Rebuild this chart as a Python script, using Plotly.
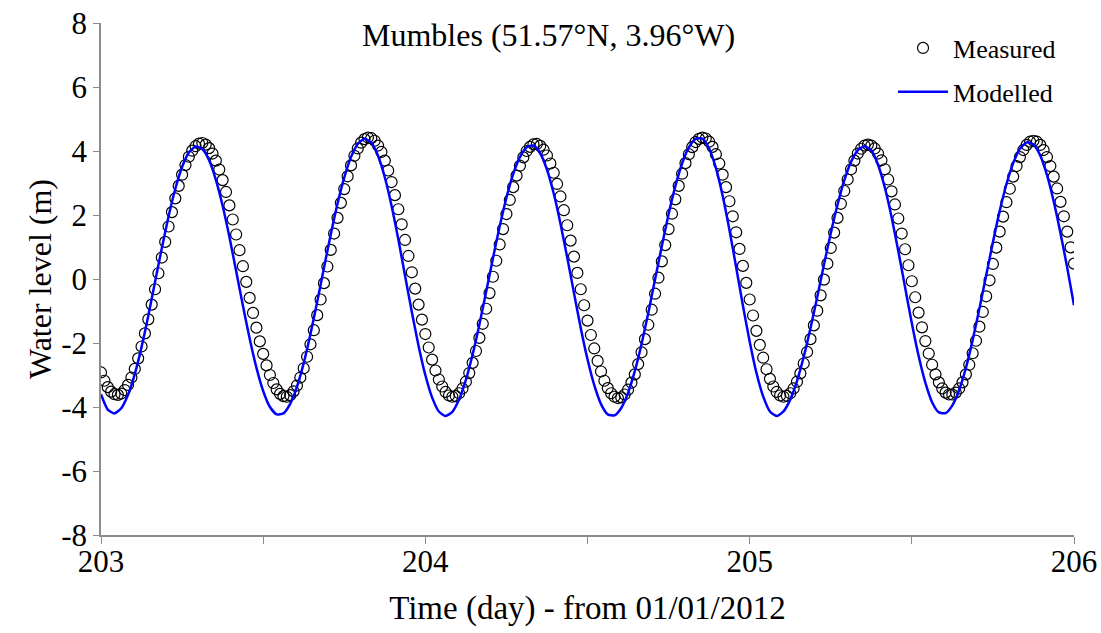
import plotly.graph_objects as go

# ---------------- data ----------------
t_start = 203.0
meas_step = 1.0 / 96.0   # 15-minute sampling of the measured record
model_step = 1.0 / 48.0  # 30-minute sampling of the modelled series

measured = [
    -2.92, -3.18, -3.38, -3.52, -3.60, -3.62, -3.58, -3.47, -3.31, -3.08, -2.81, -2.48,
    -2.11, -1.70, -1.26, -0.80, -0.32, 0.18, 0.67, 1.16, 1.64, 2.09, 2.52, 2.91,
    3.26, 3.56, 3.82, 4.01, 4.15, 4.23, 4.25, 4.20, 4.09, 3.92, 3.70, 3.42,
    3.09, 2.72, 2.30, 1.86, 1.39, 0.90, 0.40, -0.09, -0.59, -1.06, -1.52, -1.95,
    -2.34, -2.70, -3.00, -3.25, -3.45, -3.59, -3.66, -3.68, -3.63, -3.51, -3.33, -3.08,
    -2.79, -2.43, -2.04, -1.60, -1.13, -0.64, -0.13, 0.39, 0.91, 1.42, 1.91, 2.38,
    2.81, 3.21, 3.55, 3.85, 4.08, 4.26, 4.37, 4.42, 4.40, 4.32, 4.17, 3.97,
    3.70, 3.39, 3.03, 2.62, 2.18, 1.71, 1.22, 0.72, 0.21, -0.30, -0.80, -1.27,
    -1.72, -2.14, -2.52, -2.86, -3.14, -3.36, -3.53, -3.64, -3.68, -3.66, -3.57, -3.42,
    -3.21, -2.94, -2.62, -2.25, -1.84, -1.40, -0.93, -0.44, 0.07, 0.57, 1.08, 1.56,
    2.03, 2.47, 2.87, 3.23, 3.54, 3.80, 4.00, 4.13, 4.21, 4.22, 4.16, 4.04,
    3.86, 3.61, 3.32, 2.97, 2.58, 2.15, 1.68, 1.20, 0.70, 0.19, -0.32, -0.82,
    -1.30, -1.75, -2.17, -2.56, -2.89, -3.18, -3.41, -3.57, -3.68, -3.72, -3.70, -3.61,
    -3.46, -3.24, -2.98, -2.66, -2.29, -1.88, -1.43, -0.96, -0.46, 0.04, 0.55, 1.06,
    1.56, 2.04, 2.49, 2.91, 3.29, 3.62, 3.90, 4.12, 4.28, 4.38, 4.42, 4.39,
    4.29, 4.13, 3.90, 3.61, 3.26, 2.87, 2.43, 1.96, 1.46, 0.94, 0.41, -0.12,
    -0.64, -1.14, -1.62, -2.06, -2.46, -2.82, -3.12, -3.36, -3.53, -3.64, -3.68, -3.65,
    -3.57, -3.42, -3.21, -2.95, -2.64, -2.28, -1.88, -1.45, -0.99, -0.51, -0.02, 0.48,
    0.97, 1.45, 1.91, 2.35, 2.75, 3.11, 3.43, 3.70, 3.92, 4.07, 4.17, 4.20,
    4.17, 4.08, 3.92, 3.71, 3.43, 3.11, 2.74, 2.33, 1.89, 1.42, 0.93, 0.43,
    -0.07, -0.57, -1.05, -1.51, -1.94, -2.33, -2.68, -2.98, -3.23, -3.42, -3.55, -3.61,
    -3.61, -3.55, -3.42, -3.23, -2.98, -2.68, -2.32, -1.93, -1.49, -1.03, -0.54, -0.04,
    0.47, 0.98, 1.48, 1.95, 2.40, 2.82, 3.20, 3.53, 3.81, 4.03, 4.19, 4.29,
    4.32, 4.29, 4.19, 4.03, 3.81, 3.53, 3.20, 2.83, 2.41, 1.96, 1.48, 0.99,
    0.48,
]

modelled = [
    -3.60, -4.08, -4.20, -4.04, -3.62, -2.97, -2.13, -1.15, -0.09, 0.96, 1.96, 2.82,
    3.50, 3.95, 4.14, 4.06, 3.71, 3.10, 2.29, 1.32, 0.25, -0.83, -1.86, -2.77,
    -3.50, -4.00, -4.23, -4.20, -3.90, -3.37, -2.63, -1.72, -0.71, 0.35, 1.39, 2.35,
    3.17, 3.81, 4.22, 4.38, 4.26, 3.85, 3.18, 2.29, 1.24, 0.10, -1.03, -2.09,
    -3.00, -3.70, -4.14, -4.28, -4.15, -3.76, -3.15, -2.36, -1.42, -0.40, 0.64, 1.64,
    2.54, 3.28, 3.81, 4.12, 4.17, 3.93, 3.42, 2.67, 1.73, 0.67, -0.44, -1.53,
    -2.51, -3.32, -3.91, -4.23, -4.26, -4.03, -3.56, -2.88, -2.03, -1.06, -0.01, 1.03,
    2.02, 2.90, 3.61, 4.11, 4.38, 4.39, 4.08, 3.47, 2.60, 1.54, 0.37, -0.83,
    -1.95, -2.93, -3.67, -4.14, -4.28, -4.14, -3.77, -3.19, -2.43, -1.54, -0.56, 0.45,
    1.43, 2.32, 3.08, 3.66, 4.02, 4.15, 4.01, 3.57, 2.86, 1.94, 0.87, -0.26,
    -1.38, -2.40, -3.24, -3.85, -4.17, -4.19, -3.95, -3.47, -2.78, -1.91, -0.93, 0.11,
    1.15, 2.12, 2.96, 3.62, 4.07, 4.27, 4.20, 3.86, 3.25, 2.42, 1.43, 0.35,
    -0.82,
]

x_tick_vals = [203, 203.5, 204, 204.5, 205, 205.5, 206]
x_tick_text = ["203", "", "204", "", "205", "", "206"]
y_tick_vals = [8, 6, 4, 2, 0, -2, -4, -6, -8]
y_tick_text = ["8", "6", "4", "2", "0", "-2", "-4", "-6", "-8"]

title_text = "Mumbles (51.57°N, 3.96°W)"
x_title = "Time (day) - from 01/01/2012"
y_title = "Water level (m)"

# ---------------- figure ----------------
t_meas = [t_start + i * meas_step for i in range(len(measured))]
t_model = [t_start + j * model_step for j in range(len(modelled))]

FONT = "Liberation Serif, Times New Roman, serif"

fig = go.Figure()
fig.add_trace(go.Scatter(
    x=t_meas, y=measured, mode="markers", name="Measured",
    legendgroup="a",
    marker=dict(symbol="circle-open", size=11, color="black",
                line=dict(color="#222222", width=1.2)),
))
fig.add_trace(go.Scatter(
    x=t_model, y=modelled, mode="lines", name="Modelled",
    legendgroup="b",
    line=dict(color="#0000FF", width=2.5, shape="spline", smoothing=0.6),
))

axis_col = "#8c8c8c"
fig.update_layout(
    width=1101, height=633,
    margin=dict(l=101, r=27, t=23, b=98),
    paper_bgcolor="white", plot_bgcolor="white",
    font=dict(family=FONT, color="black", size=28),
    showlegend=True,
    legend=dict(
        x=0.814, y=0.997, xanchor="left", yanchor="top",
        bgcolor="rgba(0,0,0,0)", borderwidth=0,
        font=dict(family=FONT, size=26, color="black"),
        itemwidth=50, tracegroupgap=7, traceorder="grouped",
    ),
    xaxis=dict(
        range=[203, 206], tickmode="array", automargin=False,
        tickvals=x_tick_vals, ticktext=x_tick_text,
        ticks="outside", ticklen=7, tickwidth=1.2, tickcolor=axis_col,
        ticklabelstandoff=-9,
        showline=True, linecolor=axis_col, linewidth=1.5,
        showgrid=False, zeroline=False,
        tickfont=dict(family=FONT, size=31, color="black"),
        title=dict(text=x_title, font=dict(family=FONT, size=33, color="black"), standoff=18),
    ),
    yaxis=dict(
        range=[-8, 8], tickmode="array", automargin=False,
        tickvals=y_tick_vals, ticktext=y_tick_text,
        ticks="outside", ticklen=6, tickwidth=1.2, tickcolor=axis_col,
        showline=True, linecolor=axis_col, linewidth=1.5,
        showgrid=False, zeroline=False,
        tickfont=dict(family=FONT, size=31, color="black"),
        title=dict(text=y_title, font=dict(family=FONT, size=32, color="black"), standoff=0),
    ),
    annotations=[dict(
        text=title_text, xref="paper", yref="paper",
        x=0.4604, y=0.9766, xanchor="center", yanchor="middle",
        showarrow=False, font=dict(family=FONT, size=32, color="black"),
    )],
)

fig.write_html("out.html")
